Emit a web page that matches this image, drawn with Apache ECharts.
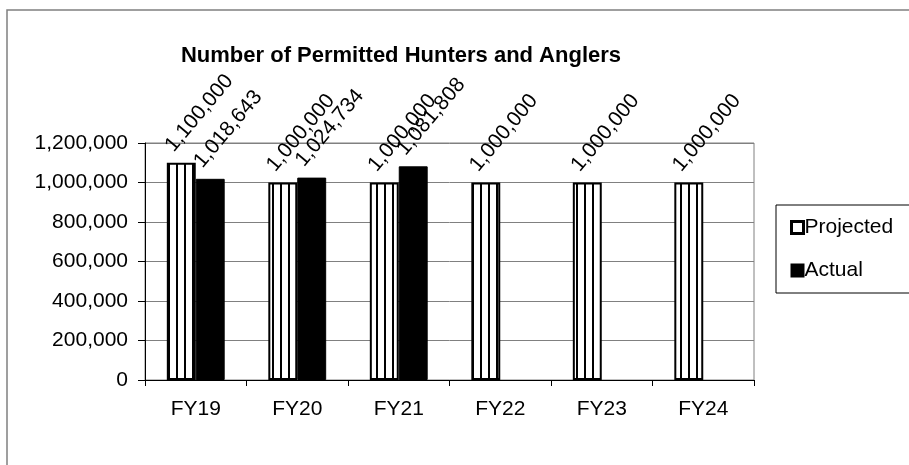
<!DOCTYPE html>
<html>
<head>
<meta charset="utf-8">
<script src="https://cdn.jsdelivr.net/npm/echarts@6/dist/echarts.min.js"></script>
<style>
  html, body { margin: 0; padding: 0; background: #fff; }
  #chart { width: 909px; height: 465px; }
</style>
</head>
<body>
<div id="chart"></div>
<script>
const categories = ['FY19', 'FY20', 'FY21', 'FY22', 'FY23', 'FY24']
const projected = [1100000, 1000000, 1000000, 1000000, 1000000, 1000000]
const actual = [1018643, 1024734, 1081808, null, null, null]
const yTicks = { min: 0, max: 1200000, interval: 200000 }

// vertical stripe fill for the projected bars
function stripes(){
  let c = document.createElement('canvas')
  c.width = 8; c.height = 4
  let ctx = c.getContext('2d')
  ctx.fillStyle = '#fff'
  ctx.fillRect(0, 0, 8, 4)
  ctx.fillStyle = '#000'
  ctx.fillRect(0, 0, 2, 4)
  return c
}

function fmt(v){
  return Number(v).toLocaleString('en-US')
}

const font = 'Liberation Sans'
var myChart = echarts.init(document.getElementById('chart'))

var labelStyle = {
  show: true,
  position: 'top',
  rotate: 50,
  align: 'left',
  verticalAlign: 'middle',
  distance: 22,
  offset: [-14, -4],
  color: '#000',
  fontFamily: font,
  fontSize: 21,
  formatter: p => fmt(p.value)
}

var option = {
  animation: false,
  backgroundColor: '#fff',
  title: {
    text: 'Number of Permitted Hunters and Anglers',
    left: 396,
    textAlign: 'center',
    top: 40,
    textStyle: { fontFamily: font, fontSize: 22, fontWeight: 'bold', color: '#000' }
  },
  graphic: [{
    type: 'rect',
    shape: { x: 7, y: 10, width: 1000, height: 1000 },
    style: { fill: 'none', stroke: '#808080', lineWidth: 1.5 },
    silent: true
  }],
  legend: {
    orient: 'vertical',
    left: 776,
    top: 205,
    width: 133,
    height: 85,
    padding: [12, 30, 12, 14],
    itemGap: 22,
    itemWidth: 12,
    itemHeight: 12,
    borderColor: '#000',
    borderWidth: 1,
    icon: 'rect',
    textStyle: { fontFamily: font, fontSize: 21, color: '#000', padding: [0, 0, 0, -4] },
    data: [
      { name: 'Projected', itemStyle: { color: '#fff', borderColor: '#000', borderWidth: 3 } },
      { name: 'Actual', itemStyle: { color: '#000' } }
    ]
  },
  grid: {
    left: 145, right: 155, top: 143, bottom: 85,
    show: true, borderColor: '#808080', borderWidth: 1
  },
  xAxis: {
    type: 'category',
    data: categories,
    axisLine: { lineStyle: { color: '#000', width: 1 } },
    axisTick: { show: true, length: 6, lineStyle: { color: '#000' } },
    axisLabel: { color: '#000', fontFamily: font, fontSize: 21, margin: 19 }
  },
  yAxis: {
    type: 'value',
    min: yTicks.min, max: yTicks.max, interval: yTicks.interval,
    axisLine: { show: true, lineStyle: { color: '#000', width: 1 } },
    axisTick: { show: true, length: 7, lineStyle: { color: '#000' } },
    splitLine: { lineStyle: { color: '#808080', width: 1 } },
    axisLabel: { color: '#000', fontFamily: font, fontSize: 21, margin: 17, formatter: v => fmt(v) }
  },
  series: [
    {
      name: 'Projected',
      type: 'bar',
      data: projected,
      barGap: '0%',
      barCategoryGap: '43%',
      itemStyle: {
        color: { image: stripes(), repeat: 'repeat' },
        borderColor: '#000',
        borderWidth: 2
      },
      label: labelStyle
    },
    {
      name: 'Actual',
      type: 'bar',
      data: actual,
      barGap: '0%',
      barCategoryGap: '43%',
      itemStyle: { color: '#000', borderColor: '#000', borderWidth: 1 },
      label: labelStyle
    }
  ]
}
myChart.setOption(option)
</script>
</body>
</html>
